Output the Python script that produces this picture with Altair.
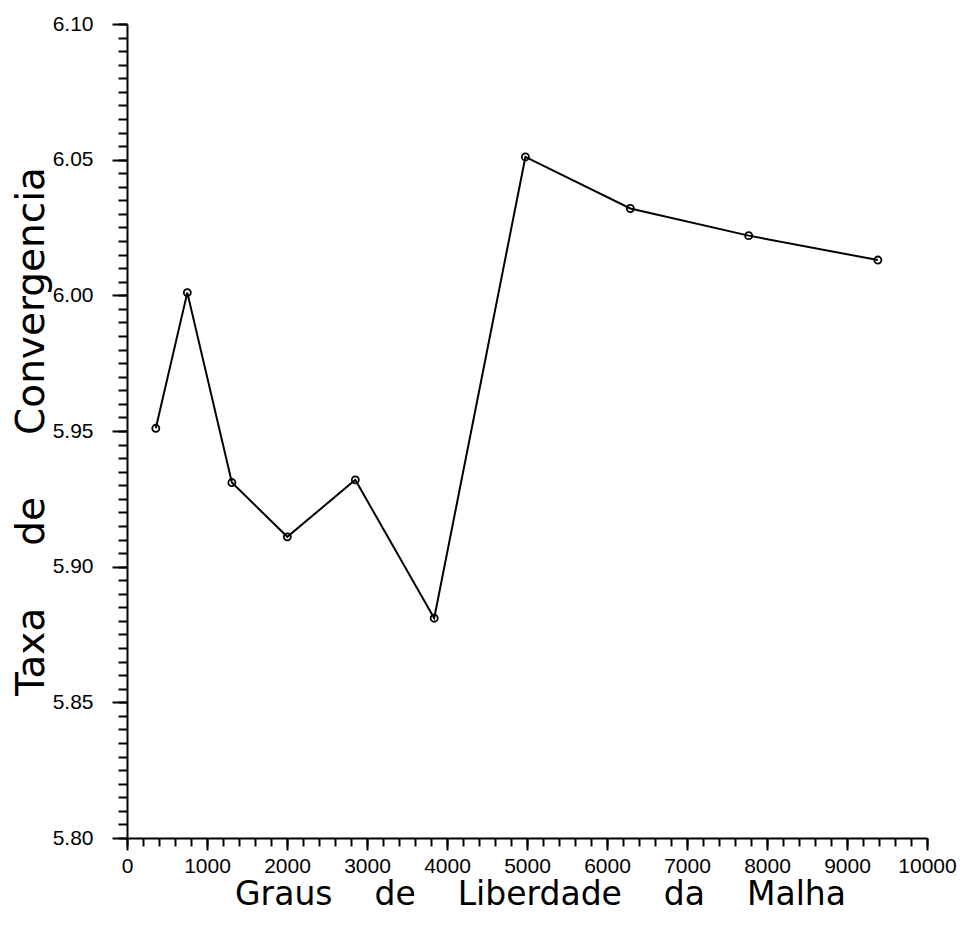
import altair as alt
import pandas as pd

# Data
graus = [360, 754, 1311, 2004, 2854, 3840, 4980, 6292, 7771, 9386]
taxa = [5.951, 6.001, 5.931, 5.911, 5.932, 5.881, 6.051, 6.032, 6.022, 6.013]

x_major = list(range(0, 10001, 1000))
x_minor = list(range(0, 10001, 200))
y_major = [round(5.80 + 0.05 * i, 2) for i in range(7)]
y_minor = [round(5.80 + 0.005 * i, 3) for i in range(61)]

df = pd.DataFrame({"graus": graus, "taxa": taxa})

NB = "\u00a0"
x_title = (" " + NB * 3).join(["Graus", "de", "Liberdade", "da", "Malha"])
y_title = (" " + NB * 4).join(["Taxa", "de", "Convergencia"])

xs = alt.Scale(domain=[0, 10000], nice=False, zero=False)
ys = alt.Scale(domain=[5.80, 6.10], nice=False, zero=False)

base = alt.Chart(df)

line = base.mark_line(color="black", strokeWidth=2).encode(
    x=alt.X(
        "graus:Q",
        scale=xs,
        axis=alt.Axis(
            orient="bottom",
            values=x_major,
            format="d",
            title=x_title,
            tickSize=12,
            labelPadding=5,
            titlePadding=2,
            titleX=413,
            labelOverlap=False,
            labelFlush=False,
        ),
    ),
    y=alt.Y(
        "taxa:Q",
        scale=ys,
        axis=alt.Axis(
            orient="left",
            values=y_major,
            format=".2f",
            title=y_title,
            tickSize=15,
            labelPadding=19,
            titlePadding=1,
            labelOverlap=False,
            labelFlush=False,
        ),
    ),
)

pts = base.mark_point(
    shape="circle", filled=False, color="black", size=50, strokeWidth=1.8, opacity=1
).encode(
    x=alt.X("graus:Q", scale=xs, axis=None),
    y=alt.Y("taxa:Q", scale=ys, axis=None),
)

minor = base.mark_point(opacity=0, size=1).encode(
    x=alt.X(
        "graus:Q",
        scale=xs,
        axis=alt.Axis(orient="bottom", values=x_minor, tickSize=8, labels=False,
                      domain=False, title=None),
    ),
    y=alt.Y(
        "taxa:Q",
        scale=ys,
        axis=alt.Axis(orient="left", values=y_minor, tickSize=9, labels=False,
                      domain=False, title=None),
    ),
)

chart = (
    alt.layer(line, pts, minor)
    .resolve_axis(x="independent", y="independent")
    .properties(width=800, height=814, padding={"left": 4, "top": 5, "right": 0, "bottom": 0})
    .configure_view(stroke=None)
    .configure_axis(
        grid=False,
        domainColor="black",
        domainWidth=2,
        tickColor="black",
        tickWidth=2,
        labelColor="black",
        labelFont="Liberation Sans",
        labelFontSize=21,
        titleColor="black",
        titleFont="DejaVu Sans",
        titleFontWeight="normal",
    )
    .configure_axisX(titleFontSize=33)
    .configure_axisY(titleFontSize=39)
)

chart.save("out.html", embed_options={"renderer": "svg", "actions": False})
